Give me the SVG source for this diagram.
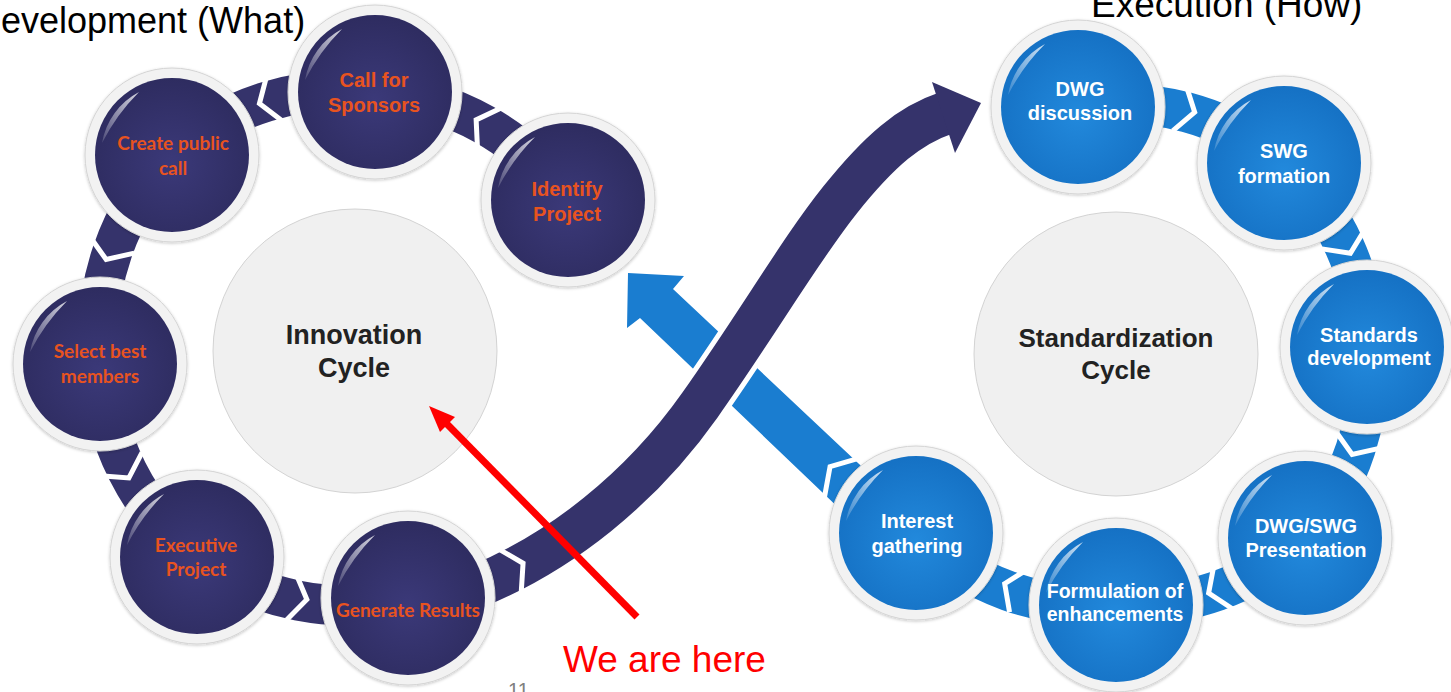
<svg xmlns="http://www.w3.org/2000/svg" xmlns:xlink="http://www.w3.org/1999/xlink" width="1451" height="692" viewBox="0 0 1451 692">
<defs>
<radialGradient id="gNavy" cx="50%" cy="55%" r="55%">
<stop offset="0" stop-color="#3b3979"/>
<stop offset="1" stop-color="#2e2c60"/>
</radialGradient>
<radialGradient id="gBlue" cx="50%" cy="55%" r="55%">
<stop offset="0" stop-color="#2289dc"/>
<stop offset="1" stop-color="#1571c4"/>
</radialGradient>
<linearGradient id="gGloss" x1="0" y1="1" x2="1" y2="0">
<stop offset="0" stop-color="#ffffff" stop-opacity="0.15"/>
<stop offset="1" stop-color="#ffffff" stop-opacity="0.8"/>
</linearGradient>
<filter id="sh" x="-20%" y="-20%" width="140%" height="140%">
<feDropShadow dx="0" dy="1" stdDeviation="1.5" flood-color="#000" flood-opacity="0.22"/>
</filter>
<g id="darkNode">
<circle r="87" class="ring"/>
<circle r="77" fill="url(#gNavy)"/>
<path class="gloss" d="M -70,-12 A 71 71 0 0 1 -33,-63 A 200 200 0 0 0 -70,-12 Z"/>
</g>
<g id="blueNode">
<circle r="87" class="ring"/>
<circle r="77" fill="url(#gBlue)"/>
<path class="gloss" d="M -70,-12 A 71 71 0 0 1 -33,-63 A 200 200 0 0 0 -70,-12 Z"/>
</g>
<style>
.ring{fill:#f2f2f2;stroke:#d4d4d4;stroke-width:1;filter:url(#sh)}
.gloss{fill:url(#gGloss)}
.big{fill:#f0f0f0;stroke:#d3d3d3;stroke-width:1}
.bandN{fill:none;stroke:#35336b;stroke-width:40}
.bandB{fill:none;stroke:#1a7dd0;stroke-width:40}
.chev{fill:none;stroke:#ffffff;stroke-width:5;stroke-linejoin:miter}
.ltxt{font-family:Lato,"Liberation Sans",sans-serif;font-weight:700;font-size:19px;fill:#e8531f;text-anchor:middle}
.atxt{font-family:"Liberation Sans",Arial,sans-serif;font-weight:700;font-size:20px;fill:#e8531f;text-anchor:middle}
.wtxt{font-family:"Liberation Sans",Arial,sans-serif;font-weight:700;font-size:20px;fill:#ffffff;text-anchor:middle}
.ctxt{font-family:"Liberation Sans",Arial,sans-serif;font-weight:700;font-size:26px;fill:#222222;text-anchor:middle}
.title{font-family:"Liberation Sans",Arial,sans-serif;font-size:36px;fill:#000000}
</style>
</defs>
<rect width="1451" height="692" fill="#ffffff"/>

<text class="title" x="1" y="33">evelopment (What)</text>
<text class="title" x="1091" y="17" style="font-size:37px">Execution (How)</text>

<g id="center-innovation">
<circle class="big" cx="355" cy="351" r="142"/>
<text class="ctxt" x="354" y="344" style="font-size:27px">Innovation</text>
<text class="ctxt" x="354" y="377" style="font-size:27px">Cycle</text>
</g>
<g id="center-standardization">
<circle class="big" cx="1116" cy="354" r="142"/>
<text class="ctxt" x="1116" y="347">Standardization</text>
<text class="ctxt" x="1116" y="379">Cycle</text>
</g>

<g id="connectors">
<path class="bandN" d="M 568,200 A 258 258 0 0 0 375,92 A 258 258 0 0 0 172,155 A 258 258 0 0 0 100,364 A 258 258 0 0 0 197,557 A 258 258 0 0 0 408,598"/>
<path class="bandB" d="M 1078,107 A 255 255 0 0 1 1284,163 A 255 255 0 0 1 1367,347 A 255 255 0 0 1 1305,538 A 255 255 0 0 1 1116,605 A 255 255 0 0 1 916,533"/>
<polygon fill="#1a7dd0" points="628,273 684,276 673,289 875,479 845,514 640,318 627,328"/>
<path d="M 478,586 C 560,552 640,490 700,405 S 800,250 840,200 S 910,125 946,113" fill="none" stroke="#ffffff" stroke-width="53"/>
<path d="M 478,586 C 560,552 640,490 700,405 S 800,250 840,200 S 910,125 946,113" fill="none" stroke="#35336b" stroke-width="43"/>
<polygon fill="#35336b" points="932,82 981,103 955,153"/>
<g class="chev">
<polyline transform="translate(483,124) rotate(-149)" points="-8,-24 8,0 -8,24"/>
<polyline transform="translate(267,101) rotate(161)" points="-8,-24 8,0 -8,24"/>
<polyline transform="translate(109,252) rotate(111)" points="-8,-24 8,0 -8,24"/>
<polyline transform="translate(125,471) rotate(61)" points="-8,-24 8,0 -8,24"/>
<polyline transform="translate(299,598) rotate(11)" points="-8,-24 8,0 -8,24"/>
<polyline transform="translate(516,567) rotate(-28)" points="-8,-26 8,0 -8,26"/>
<polyline transform="translate(1187,110) rotate(16)" points="-8,-24 8,0 -8,24"/>
<polyline transform="translate(1347,246) rotate(65)" points="-8,-24 8,0 -8,24"/>
<polyline transform="translate(1355,447) rotate(111)" points="-8,-24 8,0 -8,24"/>
<polyline transform="translate(1216,590) rotate(157)" points="-8,-24 8,0 -8,24"/>
<polyline transform="translate(1012,587) rotate(204)" points="-8,-24 8,0 -8,24"/>
<polyline transform="translate(836,472) rotate(222)" points="-8,-26 8,0 -8,26"/>
</g>
</g>

<g id="n-call" transform="translate(375,92)">
<use xlink:href="#darkNode"/>
<text class="atxt" x="-1" y="-5">Call for</text>
<text class="atxt" x="-1" y="20">Sponsors</text>
</g>
<g id="n-create" transform="translate(172,155)">
<use xlink:href="#darkNode"/>
<text class="ltxt" x="1" y="-5">Create public</text>
<text class="ltxt" x="1" y="20">call</text>
</g>
<g id="n-identify" transform="translate(568,200)">
<use xlink:href="#darkNode"/>
<text class="atxt" x="-1" y="-4">Identify</text>
<text class="atxt" x="-1" y="21">Project</text>
</g>
<g id="n-select" transform="translate(100,364)">
<use xlink:href="#darkNode"/>
<text class="ltxt" x="0" y="-6">Select best</text>
<text class="ltxt" x="0" y="19">members</text>
</g>
<g id="n-exec" transform="translate(197,557)">
<use xlink:href="#darkNode"/>
<text class="ltxt" x="-1" y="-5">Executive</text>
<text class="ltxt" x="-1" y="19">Project</text>
</g>
<g id="n-generate" transform="translate(408,598)">
<use xlink:href="#darkNode"/>
<text class="ltxt" x="0" y="19">Generate Results</text>
</g>

<g id="n-dwg" transform="translate(1078,107)">
<use xlink:href="#blueNode"/>
<text class="wtxt" x="2" y="-11">DWG</text>
<text class="wtxt" x="2" y="13">discussion</text>
</g>
<g id="n-swg" transform="translate(1284,163)">
<use xlink:href="#blueNode"/>
<text class="wtxt" x="0" y="-5">SWG</text>
<text class="wtxt" x="0" y="20">formation</text>
</g>
<g id="n-std" transform="translate(1367,347)">
<use xlink:href="#blueNode"/>
<text class="wtxt" x="2" y="-5">Standards</text>
<text class="wtxt" x="2" y="18">development</text>
</g>
<g id="n-pres" transform="translate(1305,538)">
<use xlink:href="#blueNode"/>
<text class="wtxt" x="1" y="-5">DWG/SWG</text>
<text class="wtxt" x="1" y="19">Presentation</text>
</g>
<g id="n-form" transform="translate(1116,605)">
<use xlink:href="#blueNode"/>
<text class="wtxt" x="-1" y="-7" style="font-size:19.5px">Formulation of</text>
<text class="wtxt" x="-1" y="16" style="font-size:19.5px">enhancements</text>
</g>
<g id="n-interest" transform="translate(916,533)">
<use xlink:href="#blueNode"/>
<text class="wtxt" x="1" y="-5">Interest</text>
<text class="wtxt" x="1" y="20">gathering</text>
</g>

<g id="annotation">
<line x1="637" y1="617" x2="446" y2="423" stroke="#ff0000" stroke-width="7"/>
<polygon fill="#ff0000" points="429,406 455,417 440,432"/>
<text x="563" y="672" style="font-family:'Liberation Sans',Arial,sans-serif;font-size:37px;fill:#ff0000">We are here</text>
</g>
<text x="508" y="697" style="font-family:'Liberation Sans',Arial,sans-serif;font-size:20px;fill:#808080">11</text>
</svg>
